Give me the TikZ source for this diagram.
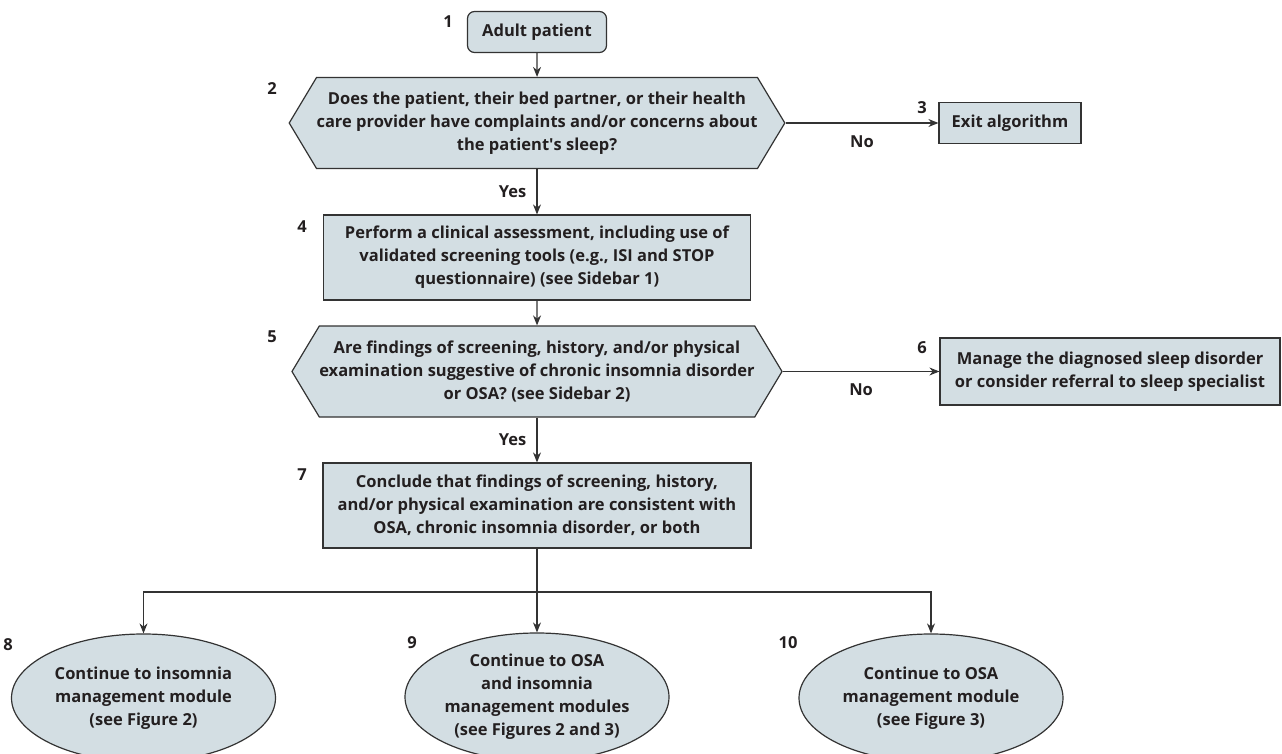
\documentclass[tikz,border=0pt]{standalone}
\usepackage{fontspec}
\setmainfont{Open Sans}
\usetikzlibrary{positioning,arrows.meta,shapes.geometric,shapes.symbols}

\definecolor{boxfill}{HTML}{D3DEE3}
\definecolor{edgegray}{HTML}{333333}
\definecolor{ink}{HTML}{231F20}

\begin{document}
\begin{tikzpicture}[
			x=1pt, y=-1pt,
			every node/.style={
					font=\fontsize{16.5}{23}\selectfont\bfseries,
					text=ink,
					align=center,
					inner sep=0pt
				},
			stepbox/.style={
					draw=edgegray,
					fill=boxfill,
					line width=1.2pt
				},
			decide/.style={
					stepbox,
					shape=signal,
					signal to=west and east,
					signal pointer angle=118,
					minimum width=488pt,
					minimum height=91pt
				},
			outcome/.style={
					stepbox,
					ellipse,
					minimum width=264pt,
					minimum height=128pt
				},
			flow/.style={draw=edgegray, line width=1.2pt},
			>={Stealth[length=10pt,width=8pt]}
		]

		\useasboundingbox (0,0) rectangle (1282,754);

		\node (adult) [stepbox, rounded corners=7pt,
			minimum width=139pt, minimum height=41pt] at (537,32)
		{Adult patient};

		\node (concerns) [decide] at (537,123)
		{Does the patient, their bed partner, or their health\\
			care provider have complaints and/or concerns about\\
			the patient\textquotesingle s sleep?};

		\node (exit) [stepbox, minimum width=142pt,
			minimum height=41pt] at (1010,123)
		{Exit algorithm};

		\node (assess) [stepbox, minimum width=427pt,
			minimum height=85pt] at (537,257.5)
		{Perform a clinical assessment, including use of\\
			validated screening tools (e.g., ISI and STOP\\
			questionnaire) (see Sidebar 1)};

		\node (findings) [decide] at (537,371.5)
		{Are findings of screening, history, and/or physical\\
			examination suggestive of chronic insomnia disorder\\
			or OSA? (see Sidebar 2)};

		\node (manage) [stepbox, minimum width=340pt,
			minimum height=67pt] at (1110,371.5)
		{Manage the diagnosed sleep disorder\\
			or consider referral to sleep specialist};

		\node (conclude) [stepbox, minimum width=428pt,
			minimum height=85pt] at (537,505.5)
		{Conclude that findings of screening, history,\\
			and/or physical examination are consistent with\\
			OSA, chronic insomnia disorder, or both};

		\node (insomnia) [outcome] at (143.5,698)
		{Continue to insomnia\\
			management module\\
			(see Figure 2)};

		\node (both) [outcome] at (537,697)
		{Continue to OSA\\
			and insomnia\\
			management modules\\
			(see Figures 2 and 3)};

		\node (osa) [outcome] at (931,698)
		{Continue to OSA\\
			management module\\
			(see Figure 3)};

		% step numbers
		\node (num1) at (448,22) {1};
		\node (num2) at (272,89) {2};
		\node (num3) at (922,108) {3};
		\node (num4) at (302,227) {4};
		\node (num5) at (272,337) {5};
		\node (num6) at (922,348) {6};
		\node (num7) at (302,475) {7};
		\node (num8) at (8,645) {8};
		\node (num9) at (412,643) {9};
		\node (num10) at (788,643) {10};

		\coordinate (split) at (537,592);

		\draw[->,flow] (adult) -- (concerns);
		\draw[->,flow] (concerns.east) -- node[below=12pt] (no1) {No} (exit.west);
		\draw[->,flow] (concerns.south) -- node[left=10pt] (yes1) {Yes} (assess.north);
		\draw[->,flow] (assess) -- (findings);
		\draw[->,flow] (findings.east) -- node[below=12pt] (no2) {No} (manage.west);
		\draw[->,flow] (findings.south) -- node[left=10pt] (yes2) {Yes} (conclude.north);
		\draw[flow] (conclude) -- (split);
		\draw[->,flow] (split) -| (insomnia.north);
		\draw[->,flow] (split) -- (both.north);
		\draw[->,flow] (split) -| (osa.north);

	\end{tikzpicture}
\end{document}
